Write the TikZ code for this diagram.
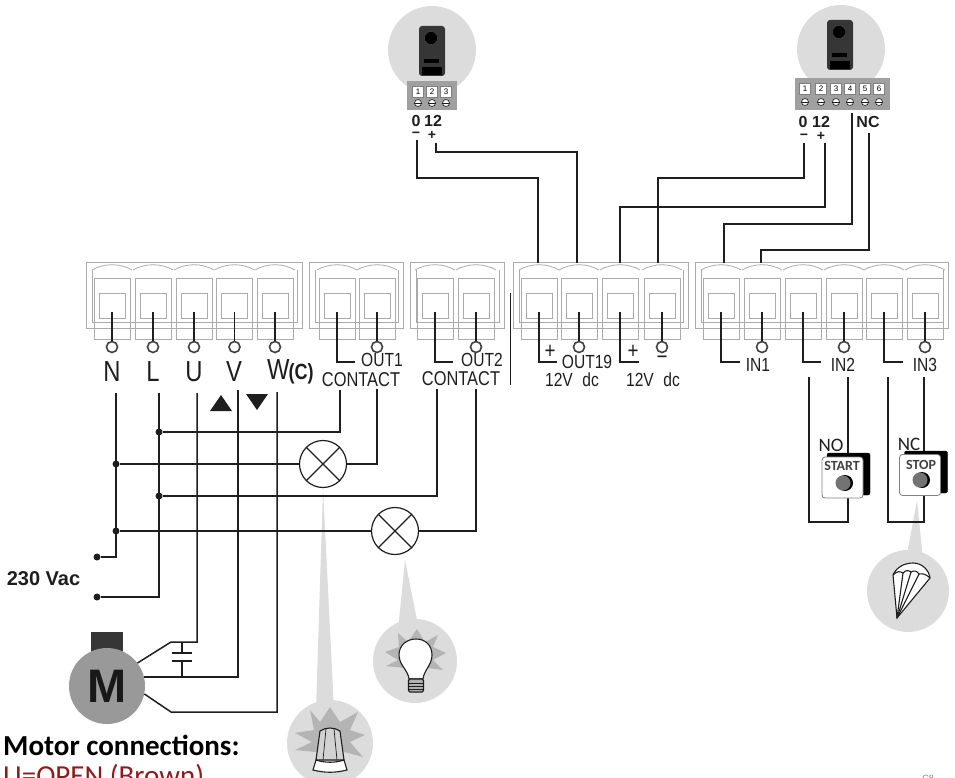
\documentclass[tikz,border=0pt]{standalone}
\usepackage{fontspec}
\setmainfont{Liberation Sans}
\newfontfamily\narrowf[FakeStretch=0.82]{Liberation Sans}
\newfontfamily\capf{Carlito}
\usetikzlibrary{calc}
\definecolor{blockgray}{HTML}{ABABAB}
\definecolor{wirecol}{HTML}{1E1E1E}
\definecolor{discgray}{HTML}{DCDCDC}
\definecolor{stargray}{HTML}{B4B4B4}
\definecolor{plategray}{HTML}{A0A0A0}
\definecolor{unitcol}{HTML}{363636}
\definecolor{motorred}{HTML}{8E1B1B}
\tikzset{
  termline/.style={draw=blockgray,line width=0.8pt},
  wire/.style={draw=wirecol,line width=1.5pt},
  symline/.style={draw=wirecol,line width=1.1pt,fill=white},
  screw/.style={circle,draw=wirecol!85,line width=1.6pt,fill=white,minimum size=11pt,inner sep=0pt},
  dotn/.style={circle,fill=wirecol,minimum size=7pt,inner sep=0pt},
  lamp/.style={circle,draw=wirecol,line width=1.2pt,minimum size=47pt,inner sep=0pt},
  bigt/.style={font=\narrowf\fontsize{29}{29}\selectfont,text=wirecol,inner sep=0pt},
  midt/.style={font=\narrowf\fontsize{19}{19}\selectfont,text=wirecol,inner sep=0pt},
  contt/.style={font=\narrowf\fontsize{20}{20}\selectfont,text=wirecol,inner sep=0pt},
  signt/.style={font=\narrowf\fontsize{23}{23}\selectfont,text=wirecol,inner sep=0pt},
  padt/.style={font=\bfseries\fontsize{16}{16}\selectfont,text=wirecol,inner sep=0pt},
  padsign/.style={font=\bfseries\fontsize{14}{14}\selectfont,text=wirecol,inner sep=0pt},
  btnback/.style={draw=black,fill=black,rounded corners=2pt,minimum width=43pt,minimum height=42pt,inner sep=0pt},
  btnface/.style={draw=gray,fill=white,line width=0.8pt,rounded corners=3pt,minimum width=41pt,minimum height=41pt,inner sep=0pt},
  btnt/.style={font=\capf\bfseries\fontsize{14}{14}\selectfont,text=black!75,inner sep=0pt},
  notet/.style={font=\capf\fontsize{19}{19}\selectfont,text=wirecol,inner sep=0pt},
  kbox/.style={draw=gray,fill=white,line width=0.6pt,minimum size=10.5pt,inner sep=0pt,font=\fontsize{8}{8}\selectfont},
  ksc/.style={circle,draw=wirecol,fill=white,line width=0.6pt,minimum size=7pt,inner sep=0pt},
}

\begin{document}
\begin{tikzpicture}[x=1pt,y=-1pt]
  \useasboundingbox (0,0) rectangle (955,778);

  % grey pointers and discs
  \fill[discgray] (323,488) -- (316,710) -- (334,710) -- cycle;
  \fill[discgray] (405,560) -- (398,630) -- (419,630) -- cycle;
  \fill[discgray] (917,500) -- (906,560) -- (923,560) -- cycle;
  \foreach \x/\y/\r in {330/743/43,415/661/42,908/591/41,432/50/44,841/49/44}
    \fill[discgray] (\x,\y) circle (\r);

  % terminal blocks
  \foreach \xa/\xb/\cells in {86/302/{112,153,194,234.5,275},309/403/{337,377},410/504/{435,476},513/688/{539,579,620,662},695/948/{721,762,803,844,884,925}} {
    \draw[termline] (\xa,262) rectangle (\xb,328);
    \draw[termline] (\xa+6,270) -- (\xa+6,322) -- (\xb-5,322) -- (\xb-5,270);
    \foreach \c in \cells {
      \draw[termline] (\c-20,270) .. controls (\c-8,263) and (\c+8,263) .. (\c+20,270);
      \draw[termline] (\c-18,278) rectangle (\c+18,339);
      \draw[termline] (\c-13,293) rectangle (\c+13,318);
    }
  }
  \foreach \c/\n in {112/a,153/b,194/c,234.5/d,275/e,377/f,476/g,579/h,662/i,762/j,844/k,925/l} {
    \node[screw] (sc\n) at (\c,347) {};
    \draw[wire] (\c,312) -- (sc\n);
  }
  \foreach \c/\e in {337/355,435/453,539/557,620/639,721/740,803/821,884/903}
    \draw[wire] (\c,312) -- (\c,362) -- (\e,362);

  % terminal labels
  \node[bigt] (tN) at (112,372) {N};
  \node[bigt] (tL) at (153,372) {L};
  \node[bigt] (tU) at (194,372) {U};
  \node[bigt] (tV) at (234,372) {V};
  \node[bigt,anchor=west] (tW) at (267,372) {W\kern-1pt\textbf{\fontsize{22}{22}\selectfont(C)}};
  \node[contt] (tc1) at (361,380) {CONTACT};
  \node[contt] (tc2) at (461,379) {CONTACT};
  \node[midt] (to1) at (382,360) {OUT1};
  \node[midt] (to2) at (482,360) {OUT2};
  \node[midt] (to3) at (587,362) {OUT19};
  \node[midt] (tv1) at (572,380) {12V\enspace dc};
  \node[midt] (tv2) at (653,380) {12V\enspace dc};
  \node[midt] (ti1) at (758,365) {IN1};
  \node[midt] (ti2) at (843,365) {IN2};
  \node[midt] (ti3) at (925,365) {IN3};
  \node[signt] (tp1) at (550,352) {+};
  \node[signt] (tp2) at (633,352) {+};
  \node[signt] (tm1) at (662,360) {−};
  \draw[wirecol,line width=0.8pt] (510,293) -- (510,385);
  \fill[wirecol] (221,395) -- (232,411) -- (210,411) -- cycle;
  \fill[wirecol] (246,394) -- (268,394) -- (257,410) -- cycle;

  % door stations
  \foreach \x/\y/\xl/\xr/\yt/\yb in {432/26/407/457/81/110,840/20/795/890/78/110} {
    \fill[plategray] (\xl,\yt) rectangle (\xr,\yb);
    \fill[unitcol,rounded corners=3pt] (\x-13,\y) rectangle (\x+13,\y+50);
    \fill[black,draw=gray!60!black] (\x-1,\y+12) circle (6.5);
    \fill[black] (\x-8,\y+33) rectangle (\x+7,\y+37);
    \fill[black] (\x-10,\y+41) rectangle (\x+10,\y+49);
  }
  \foreach \x/\n in {418/1,432/2,446/3} {
    \node[kbox] (ka\n) at (\x,92) {\n};
    \node[ksc] (kb\n) at (\x,103) {};
    \draw[wirecol,line width=0.6pt] (kb\n.west) -- (kb\n.east);
  }
  \foreach \x/\n in {805/1,821/2,836/3,850/4,865/5,879/6} {
    \node[kbox] (kc\n) at (\x,89) {\n};
    \node[ksc] (kd\n) at (\x,102) {};
    \draw[wirecol,line width=0.6pt] (kd\n.west) -- (kd\n.east);
  }
  \node[padt] (pa0) at (416,121) {0};
  \node[padt] (pa1) at (433,121) {12};
  \node[padsign] (pam) at (416,135) {−};
  \node[padsign] (pap) at (432,135) {+};
  \node[padt] (pb0) at (803,122) {0};
  \node[padt] (pb1) at (821,122) {12};
  \node[padsign] (pbm) at (804,137) {−};
  \node[padsign] (pbp) at (821,136) {+};
  \node[padt] (pbn) at (868,122) {NC};

  % upper wiring
  \coordinate (wa) at (417,140);
  \coordinate (wb) at (436,143);
  \coordinate (wc) at (804,143);
  \coordinate (wd) at (825,143);
  \coordinate (we) at (852,113);
  \coordinate (wf) at (869,133);
  \foreach \c/\n in {538/a,577/b,620/c,658/d,724/e,761/f}
    \coordinate (in\n) at (\c,263);
  \draw[wire] (wa) -- ++(0,38) -| (ina);
  \draw[wire] (wb) -- ++(0,9) -| (inb);
  \draw[wire] (wc) -- ++(0,35) -| (ind);
  \draw[wire] (wd) -- ++(0,64) -| (inc);
  \draw[wire] (we) -- ++(0,111) -| (ine);
  \draw[wire] (wf) -- ++(0,117) -| (inf);

  % mains and lamps
  \node[lamp] (lampa) at (323,464) {};
  \node[lamp] (lampb) at (395,531) {};
  \foreach \l in {lampa,lampb} {
    \draw[symline] (\l.45) -- (\l.225);
    \draw[symline] (\l.135) -- (\l.315);
  }
  \node[dotn] (da) at (159,432) {};
  \node[dotn] (db) at (116,464) {};
  \node[dotn] (dc) at (159,496) {};
  \node[dotn] (dd) at (116,531) {};
  \node[dotn] (de) at (97,557) {};
  \node[dotn] (df) at (97,597) {};
  \coordinate (wN) at (116,393);
  \coordinate (wL) at (159,393);
  \coordinate (wU) at (197,393);
  \coordinate (wV) at (238,390);
  \coordinate (wW) at (277,392);
  \coordinate (ca) at (340,390);
  \coordinate (cb) at (377,389);
  \coordinate (cc) at (437,389);
  \coordinate (cd) at (476,389);
  \draw[wire] (wN) |- (de);
  \draw[wire] (wL) |- (df);
  \draw[wire] (ca) |- (da);
  \draw[wire] (cb) |- (lampa.east);
  \draw[wire] (lampa.west) -- (db);
  \draw[wire] (cc) |- (dc);
  \draw[wire] (cd) |- (lampb.east);
  \draw[wire] (lampb.west) -- (dd);
  \node[font=\bfseries\fontsize{20}{20}\selectfont,text=wirecol,inner sep=0pt] (vac) at (43.5,579) {230 Vac};

  % motor
  \fill[unitcol] (91,632) rectangle (123,660);
  \node[circle,fill=gray!80,minimum size=76pt,inner sep=0pt,font=\bfseries\fontsize{47}{47}\selectfont,text=black!90] (motor) at (107,686) {M};
  \coordinate (mu) at (171,642);
  \coordinate (mw) at (171,712);
  \draw[wire] (wU) |- (mu) -- (motor.37);
  \draw[wire] (wV) |- (motor.14);
  \draw[wire] (wW) |- (mw) -- (motor.-12);
  \coordinate (capa) at (182,642);
  \coordinate (capb) at (182,677);
  \draw[wire] (capa) -- ++(0,11) ++(-10,0) -- ++(20,0);
  \draw[wire] (capb) -- ++(0,-16) ++(-10,0) -- ++(20,0);

  % start and stop buttons
  \coordinate (ba) at (809,377);
  \coordinate (bb) at (848,377);
  \coordinate (bc) at (888,377);
  \coordinate (bd) at (924,377);
  \draw[wire] (ba) -- (809,522) -| (bb);
  \draw[wire] (bc) -- (888,522) -| (bd);
  \node[btnback] (backa) at (848.5,474) {};
  \node[btnface] (starta) at (842.5,477.5) {};
  \node[btnback] (backb) at (926,472) {};
  \node[btnface] (stopa) at (920,475) {};
  \node[btnt] (ta) at (842,466) {START};
  \node[btnt] (tb) at (921,465) {STOP};
  \foreach \x/\y in {843/483,920/480} {
    \fill[black] (\x+2,\y) circle (8);
    \fill[gray!90!black] (\x,\y) circle (7.5);
  }
  \node[notet] (tno) at (831,445) {NO};
  \node[notet] (tnc) at (909,444) {NC};

  % wire nut
  \fill[stargray] (310,710) -- (320,722) -- (330,707) -- (340,722) -- (358,712) -- (350,730) -- (365,735) -- (350,742) -- (363,757) -- (345,752) -- (315,752) -- (295,750) -- (312,742) -- (295,733) -- (314,730) -- cycle;
  \draw[symline,fill=gray!35] (320,731) .. controls (326,727) and (334,727) .. (340,731) -- (344,760) -- (316,760) -- cycle;
  \draw[symline,line width=0.7pt,fill=none] (326,729) -- (323,760) (334,729) -- (337,760);
  \draw[symline] (316,760) .. controls (325,763) and (335,763) .. (344,760) -- (347,770) .. controls (335,773) and (325,773) .. (313,770) -- cycle;

  % bulb
  \fill[stargray] (398,633) -- (408,642) -- (417,629) -- (425,642) -- (438,635) -- (433,647) -- (446,653) -- (433,660) -- (443,670) -- (428,668) -- (405,668) -- (386,666) -- (398,660) -- (385,652) -- (399,647) -- cycle;
  \draw[symline] (409,679) .. controls (408,670) and (399,665) .. (399,655) .. controls (399,645) and (407,639) .. (416,639) .. controls (425,639) and (432,645) .. (432,655) .. controls (432,665) and (424,670) .. (423,679) -- cycle;
  \draw[symline,fill=gray!60,rounded corners=1.5pt] (408.5,679) rectangle (423.5,692);
  \foreach \y in {683,686,689}
    \draw[wirecol,line width=0.6pt] (408.5,\y) -- (423.5,\y);

  % parachute
  \draw[symline] (897,618) -- (893,575) .. controls (897,566) and (906,563) .. (913,563) .. controls (922,563) and (929,570) .. (930,578) -- cycle;
  \draw[symline,fill=none] (893,575) .. controls (897,571) and (900,571) .. (903,573) .. controls (906,570) and (908,570) .. (911,572) .. controls (914,570) and (917,571) .. (919,574) .. controls (923,573) and (927,575) .. (930,578);
  \foreach \x/\y in {903/573,911/572,919/574}
    \draw[symline] (897,618) -- (\x,\y);

  % captions
  \node[anchor=base west,font=\capf\bfseries\fontsize{29}{29}\selectfont,text=black,inner sep=0pt] (capt) at (3,755) {Motor connections:};
  \node[anchor=base west,font=\capf\fontsize{29}{29}\selectfont,text=motorred,inner sep=0pt] (capu) at (3,785) {U=OPEN (Brown)};
  \node[font=\fontsize{9}{9}\selectfont,text=gray,inner sep=0pt] (tag) at (928,778) {C8};
\end{tikzpicture}
\end{document}
